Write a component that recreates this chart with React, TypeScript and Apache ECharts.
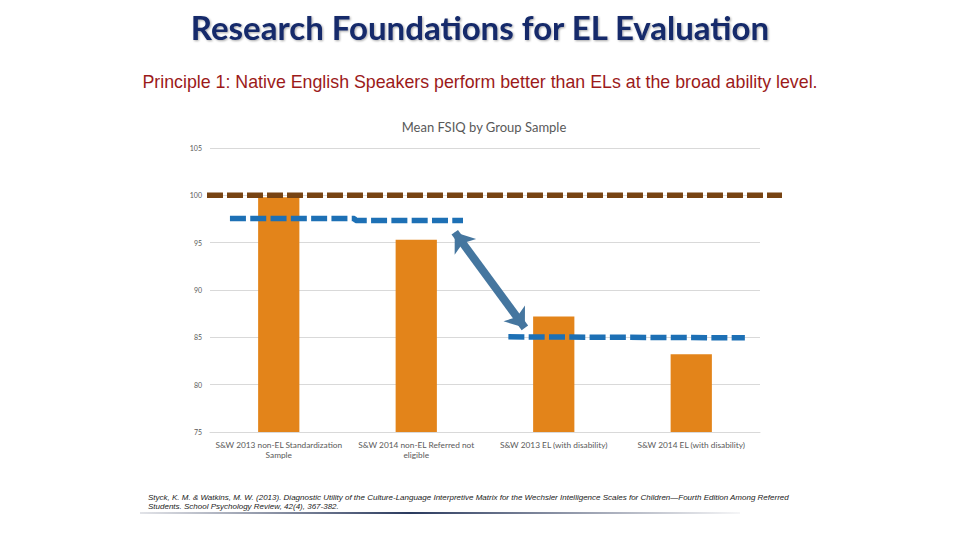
import React, { useEffect, useRef } from "react";
import * as echarts from "echarts";

const categories = [
  "S&W 2013 non-EL Standardization\nSample",
  "S&W 2014 non-EL Referred not\neligible",
  "S&W 2013 EL (with disability)",
  "S&W 2014 EL (with disability)",
];
const meanFSIQ = [99.8, 95.3, 87.2, 83.2];
const yTicks = { min: 75, max: 105, interval: 5 };

// reference lines in "category units" (0..4 spans the 4 categories)
const brownLine: [number, number][] = [
  [-0.022, 100],
  [4.16, 100],
];
const blueUpperLine: [number, number][] = [
  [0.145, 97.55],
  [1.05, 97.55],
  [1.06, 97.35],
  [1.84, 97.35],
];
const blueLowerLine: [number, number][] = [
  [2.17, 85.05],
  [3.89, 84.95],
];
const arrowFrom: [number, number] = [1.78, 96.1];
const arrowTo: [number, number] = [2.29, 86.0];

const W = 960;
const GRID_L = 210;
const GRID_R = 200;
const GRID_T = 148;
const GRID_B = 108;
const OVER_L = 150;
const OVER_R = 150;

export default function App() {
  const ref = useRef<HTMLDivElement>(null);
  useEffect(() => {
    if (!ref.current) return;
    const chart = echarts.init(ref.current, undefined, { renderer: "svg" });
    const catW = (W - GRID_L - GRID_R) / categories.length;
    const overMin = (OVER_L - GRID_L) / catW;
    const overMax = (W - OVER_R - GRID_L) / catW;
    const dashed = (data: [number, number][], color: string, dash: number[]) => ({
      type: "line",
      xAxisIndex: 1,
      yAxisIndex: 1,
      data,
      symbol: "none",
      lineStyle: { color, width: 5.5, type: dash },
      z: 5,
    });
    chart.setOption({
      animation: false,
      backgroundColor: "#ffffff",
      title: [
        {
          text: "Research Foundations for EL Evaluation",
          left: "center",
          top: 5,
          textStyle: {
            fontFamily: "Lato",
            fontWeight: "bold",
            fontSize: 33,
            color: "#13296a",
            textShadowColor: "rgba(0,0,0,0.35)",
            textShadowBlur: 2,
            textShadowOffsetX: 1,
            textShadowOffsetY: 1,
          },
        },
        {
          text: "Principle 1: Native English Speakers perform better than ELs at the broad ability level.",
          left: "center",
          top: 68,
          textStyle: {
            fontFamily: "Liberation Sans",
            fontWeight: "normal",
            fontSize: 17.8,
            color: "#9c1a1a",
          },
        },
        {
          text: "Mean FSIQ by Group Sample",
          left: 479,
          textAlign: "center",
          top: 115,
          textStyle: {
            fontFamily: "Lato",
            fontWeight: "normal",
            fontSize: 13,
            color: "#595959",
          },
        },
      ],
      grid: [
        { left: GRID_L, right: GRID_R, top: GRID_T, bottom: GRID_B },
        { left: OVER_L, right: OVER_R, top: GRID_T, bottom: GRID_B },
      ],
      xAxis: [
        {
          type: "category",
          gridIndex: 0,
          data: categories,
          axisLine: { lineStyle: { color: "#d9d9d9" } },
          axisTick: { show: false },
          axisLabel: {
            color: "#595959",
            fontSize: 8.3,
            fontFamily: "Lato",
            lineHeight: 10,
            margin: 8,
            interval: 0,
          },
        },
        {
          type: "value",
          gridIndex: 1,
          min: overMin,
          max: overMax,
          show: false,
        },
      ],
      yAxis: [
        {
          type: "value",
          gridIndex: 0,
          min: yTicks.min,
          max: yTicks.max,
          interval: yTicks.interval,
          axisLine: { show: false },
          axisTick: { show: false },
          axisLabel: { color: "#595959", fontSize: 7, fontFamily: "Lato", margin: 8 },
          splitLine: { lineStyle: { color: "#d9d9d9", width: 1 } },
        },
        {
          type: "value",
          gridIndex: 1,
          min: yTicks.min,
          max: yTicks.max,
          interval: yTicks.interval,
          show: false,
          splitLine: { show: false },
        },
      ],
      series: [
        {
          type: "bar",
          data: meanFSIQ,
          barWidth: "30%",
          itemStyle: { color: "#e3841a" },
          z: 2,
        },
        dashed(brownLine, "#774312", [16, 4]),
        dashed(blueUpperLine, "#1d70b5", [16, 4.3]),
        {
          ...dashed(blueLowerLine, "#1d70b5", [16, 4.3]),
          markLine: {
            silent: true,
            symbol: ["arrow", "arrow"],
            symbolSize: [20, 18],
            label: { show: false },
            lineStyle: { color: "#45769f", width: 8, type: "solid" },
            data: [[{ coord: arrowFrom }, { coord: arrowTo }]],
          },
        },
      ],
      graphic: [
        {
          type: "text",
          left: 148,
          top: 493,
          style: {
            text:
              "Styck, K. M. & Watkins, M. W. (2013). Diagnostic Utility of the Culture-Language Interpretive Matrix for the Wechsler Intelligence Scales for Children—Fourth Edition Among Referred\nStudents. School Psychology Review, 42(4), 367-382.",
            font: "italic 8px 'Liberation Sans'",
            fill: "#222222",
            lineHeight: 9,
          },
        },
        {
          type: "rect",
          shape: { x: 140, y: 512, width: 600, height: 2 },
          style: {
            fill: new echarts.graphic.LinearGradient(0, 0, 1, 0, [
              { offset: 0, color: "rgba(60,70,100,0.15)" },
              { offset: 0.45, color: "#2a3a5e" },
              { offset: 1, color: "rgba(60,70,100,0.05)" },
            ]),
          },
        },
      ],
    });
    return () => chart.dispose();
  }, []);
  return (
    <div
      ref={ref}
      style={{ position: "fixed", left: 0, top: 0, width: 960, height: 540 }}
    />
  );
}
